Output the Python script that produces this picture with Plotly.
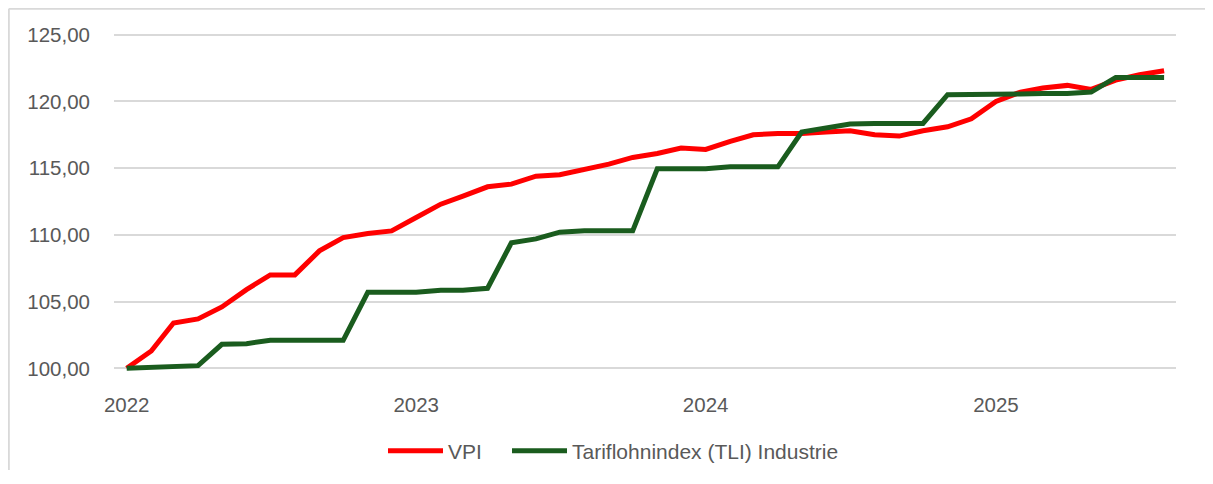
import pandas as pd
import plotly.graph_objects as go

# monthly index values, Jan 2022 .. Aug 2025 (2022-01 = 100)
months = pd.date_range("2022-01-01", "2025-08-01", freq="MS")

vpi = [
    100.0, 101.3, 103.4, 103.7, 104.6, 105.9, 107.0, 107.0, 108.8, 109.8, 110.1, 110.3,
    111.3, 112.3, 112.9, 113.6, 113.8, 114.4, 114.5, 114.9, 115.3, 115.8, 116.1, 116.5,
    116.4, 117.0, 117.5, 117.6, 117.6, 117.7, 117.8, 117.5, 117.4, 117.8, 118.1, 118.7,
    120.0, 120.7, 121.0, 121.2, 120.9, 121.6, 122.0, 122.3,
]
tli = [
    100.0, 100.1, 100.1, 100.2, 101.8, 101.85, 102.1, 102.1, 102.1, 102.1, 105.7, 105.7,
    105.7, 105.85, 105.85, 106.0, 109.4, 109.7, 110.2, 110.3, 110.3, 110.3, 114.95, 114.95,
    114.95, 115.1, 115.1, 115.1, 117.7, 118.05, 118.3, 118.35, 118.35, 118.35, 120.5, 120.5,
    120.5, 120.55, 120.6, 120.6, 120.7, 121.8, 121.8, 121.8,
]

year_ticks = ["2022-01-01", "2023-01-01", "2024-01-01", "2025-01-01"]
year_labels = ["2022", "2023", "2024", "2025"]

FONT = "Liberation Sans, Arial, sans-serif"
GREY = "#595959"
GRID = "#d9d9d9"

fig = go.Figure()
fig.add_trace(go.Scatter(
    x=months, y=vpi, name="VPI", mode="lines",
    line=dict(color="#ff0000", width=5), legend="legend",
))
fig.add_trace(go.Scatter(
    x=months, y=tli, name="Tariflohnindex (TLI) Industrie", mode="lines",
    line=dict(color="#1a5c1e", width=5), legend="legend2",
))

# page has an 8px body margin, so keep the figure inside the window
W, H = 1197, 462
L, R, T, B = 106, 1168, 24, 363
pw, ph = R - L, B - T


def px_x(p):
    return (p - L) / pw


def px_y(p):
    return (B - p) / ph


legend_style = dict(
    orientation="h", xanchor="left", y=px_y(443), yanchor="middle",
    font=dict(size=21, color=GREY), itemwidth=55, bgcolor="rgba(0,0,0,0)",
)

fig.update_layout(
    width=W, height=H,
    margin=dict(l=L, r=W - R, t=T, b=H - B, autoexpand=False),
    paper_bgcolor="white", plot_bgcolor="white",
    separators=",.",
    font=dict(family=FONT, size=20.5, color=GREY),
    showlegend=True,
    legend=dict(x=px_x(375), **legend_style),
    legend2=dict(x=px_x(499), **legend_style),
    xaxis=dict(
        range=["2021-12-16", "2025-08-16"],
        tickvals=year_ticks, ticktext=year_labels,
        showgrid=False, zeroline=False, showline=False,
        ticks="", ticklabelstandoff=19,
    ),
    yaxis=dict(
        range=[99.8, 125.2], tick0=100, dtick=5, tickformat=".2f",
        showgrid=True, gridcolor=GRID, gridwidth=1.5,
        zeroline=False, showline=False, ticks="", ticklabelstandoff=23,
    ),
)

# chart frame (only the left and top edges are inside the window)
fig.add_shape(type="line", xref="paper", yref="paper", layer="below",
              x0=px_x(0.8), x1=px_x(0.8), y0=px_y(H), y1=px_y(0.8),
              line=dict(color=GRID, width=2))
fig.add_shape(type="line", xref="paper", yref="paper", layer="below",
              x0=px_x(0.8), x1=px_x(W), y0=px_y(0.8), y1=px_y(0.8),
              line=dict(color=GRID, width=2))

fig.write_html("out.html")
